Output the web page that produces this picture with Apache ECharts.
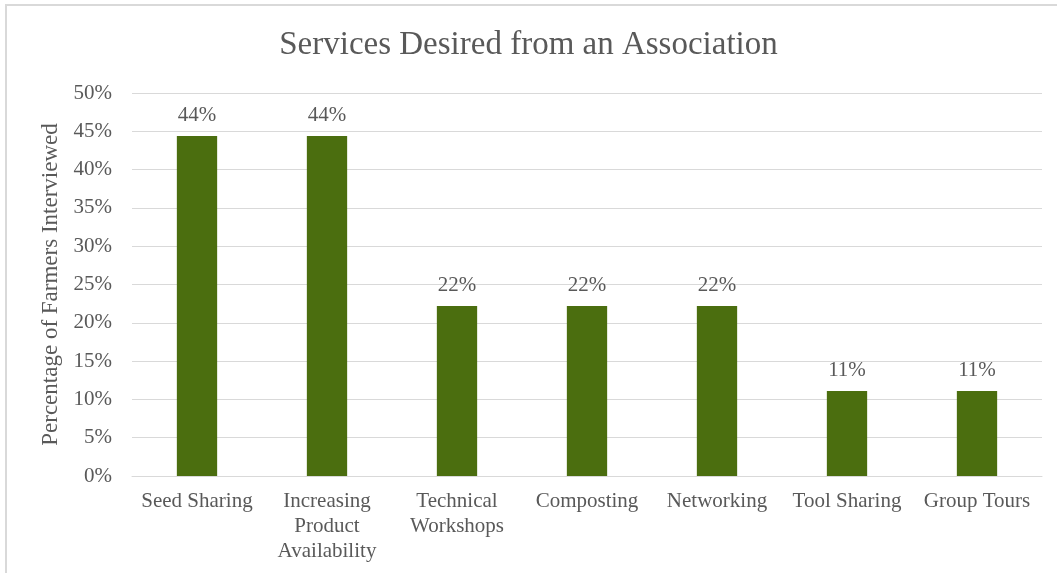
<!DOCTYPE html>
<html>
<head>
<meta charset="utf-8">
<script src="https://cdn.jsdelivr.net/npm/echarts@6/dist/echarts.min.js"></script>
<style>
  html, body { margin: 0; padding: 0; background: #ffffff; }
  #chart { width: 1057px; height: 573px; }
</style>
</head>
<body>
<div id="chart"></div>
<script>
// Survey results: share of farmers wanting each service
const categories = [
  'Seed Sharing',
  'Increasing\nProduct\nAvailability',
  'Technical\nWorkshops',
  'Composting',
  'Networking',
  'Tool Sharing',
  'Group Tours'
];
const percentValues = [44.4, 44.4, 22.2, 22.2, 22.2, 11.1, 11.1];
const yTicks = { min: 0, max: 50, interval: 5 };

const serif = '"Liberation Serif", "DejaVu Serif", serif';
const textGray = '#595959';

const chart = echarts.init(document.getElementById('chart'), null, { renderer: 'canvas' });

chart.setOption({
  backgroundColor: '#ffffff',
  animation: false,
  graphic: [{
    type: 'rect',
    shape: { x: 6, y: 5, width: 1070, height: 600 },
    style: { fill: 'none', stroke: '#d9d9d9', lineWidth: 2 },
    silent: true
  }],
  title: {
    text: 'Services Desired from an Association',
    left: 'center',
    top: 24,
    textStyle: { fontFamily: serif, fontSize: 33, fontWeight: 'normal', color: textGray }
  },
  grid: { left: 132, right: 15, top: 93, bottom: 97, containLabel: false },
  xAxis: {
    type: 'category',
    data: categories,
    axisLine: { lineStyle: { color: '#d9d9d9', width: 1 } },
    axisTick: { show: false },
    axisLabel: {
      interval: 0,
      margin: 13,
      fontFamily: serif,
      fontSize: 21,
      lineHeight: 25,
      color: textGray,
      align: 'center'
    }
  },
  yAxis: {
    type: 'value',
    min: yTicks.min,
    max: yTicks.max,
    interval: yTicks.interval,
    name: 'Percentage of Farmers Interviewed',
    nameLocation: 'middle',
    nameGap: 67,
    nameTextStyle: { fontFamily: serif, fontSize: 23, color: textGray },
    axisLine: { show: false },
    axisTick: { show: false },
    axisLabel: {
      formatter: v => v + '%',
      fontFamily: serif,
      fontSize: 21,
      color: textGray,
      margin: 20
    },
    splitLine: { lineStyle: { color: '#d9d9d9', width: 1 } }
  },
  series: [{
    type: 'bar',
    data: percentValues,
    barWidth: '31%',
    itemStyle: { color: '#4b6e0f' },
    label: {
      show: true,
      position: 'top',
      distance: 10,
      formatter: p => Math.round(p.value) + '%',
      fontFamily: serif,
      fontSize: 21,
      color: textGray
    }
  }]
});
</script>
</body>
</html>
